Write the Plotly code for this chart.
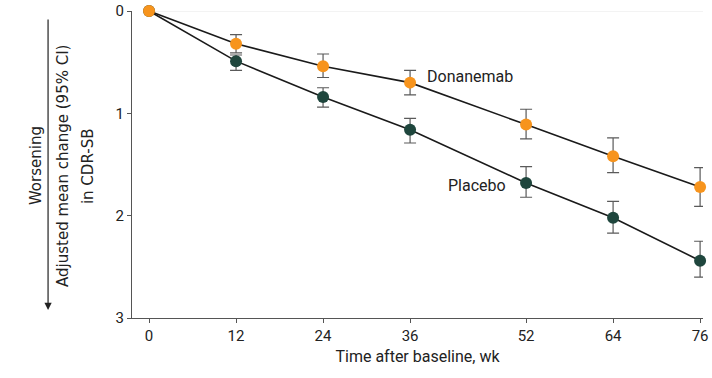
import plotly.graph_objects as go

weeks = [0, 12, 24, 36, 52, 64, 76]
dona_mean = [0.0, 0.32, 0.54, 0.70, 1.11, 1.42, 1.72]
dona_lo = [0.0, 0.23, 0.42, 0.58, 0.96, 1.24, 1.53]
dona_hi = [0.0, 0.41, 0.65, 0.82, 1.25, 1.58, 1.91]
plac_mean = [0.0, 0.49, 0.84, 1.16, 1.68, 2.02, 2.44]
plac_lo = [0.0, 0.43, 0.75, 1.05, 1.52, 1.86, 2.25]
plac_hi = [0.0, 0.58, 0.94, 1.29, 1.82, 2.17, 2.60]
xticks = [0, 12, 24, 36, 52, 64, 76]
yticks = [0, 1, 2, 3]

FONT = "Roboto, sans-serif"
TFONT = "DejaVu Sans, sans-serif"
ORANGE = "#F7941D"
DARK = "#1F463D"
EBAR = "#5a5a5a"
TXT = "#222"

def trace(mean, lo, hi, color):
    plus = [h - m for h, m in zip(hi, mean)]
    minus = [m - l for m, l in zip(mean, lo)]
    return go.Scatter(
        x=weeks, y=mean, mode="lines+markers",
        line=dict(color="#1a1a1a", width=1.6),
        marker=dict(color=color, size=12),
        error_y=dict(type="data", symmetric=False, array=plus, arrayminus=minus,
                     color=EBAR, thickness=1.2, width=6),
        cliponaxis=False, showlegend=False,
    )

fig = go.Figure()
fig.add_trace(trace(plac_mean, plac_lo, plac_hi, DARK))
fig.add_trace(trace(dona_mean, dona_lo, dona_hi, ORANGE))

fig.add_shape(type="line", xref="paper", yref="y", x0=0.02, x1=1, y0=0, y1=0,
              line=dict(color="#e8e8e8", width=1), layer="below")

fig.add_annotation(x=38.1, y=0.64, text="Donanemab", showarrow=False,
                   xanchor="left", yanchor="middle", font=dict(size=16, color=TXT, family=FONT))
fig.add_annotation(x=45.2, y=1.71, text="Placebo", showarrow=False,
                   xanchor="center", yanchor="middle", font=dict(size=16, color=TXT, family=FONT))

# y-axis title (two lines)
fig.add_annotation(xref="paper", yref="paper", x=-0.121, y=0.495,
                   text="Adjusted mean change (95% CI)", showarrow=False,
                   textangle=-90, font=dict(size=15, color=TXT, family=TFONT),
                   xanchor="center", yanchor="middle")
fig.add_annotation(xref="paper", yref="paper", x=-0.077, y=0.495,
                   text="in CDR-SB", showarrow=False,
                   textangle=-90, font=dict(size=15, color=TXT, family=TFONT),
                   xanchor="center", yanchor="middle")
# Worsening label with arrow
fig.add_annotation(xref="paper", yref="paper", x=-0.168, y=0.495,
                   text="Worsening", showarrow=False, textangle=-90,
                   font=dict(size=15, color=TXT, family=TFONT),
                   xanchor="center", yanchor="middle")
fig.add_annotation(xref="x domain", yref="y domain", x=-0.147, y=0.026,
                   ax=-0.147, ay=0.977, axref="x domain", ayref="y domain",
                   text="", showarrow=True, arrowhead=2, arrowsize=1.2,
                   arrowwidth=1.2, arrowcolor=TXT)

fig.update_xaxes(range=[-2.35, 76.4], tickvals=xticks, ticktext=[str(t) for t in xticks],
                 showline=True, linecolor="#555", linewidth=1, ticks="outside",
                 ticklen=4, tickcolor="#555", showgrid=False, zeroline=False,
                 title=dict(text="Time after baseline, wk", font=dict(size=16, color=TXT, family=FONT), standoff=6),
                 tickfont=dict(size=15, color=TXT, family=FONT), automargin=False)
fig.update_yaxes(range=[3, 0], tickvals=yticks, ticktext=[str(t) for t in yticks],
                 showline=True, linecolor="#555", linewidth=1, ticks="outside",
                 ticklen=4, tickcolor="#555", showgrid=False, zeroline=False,
                 tickfont=dict(size=15, color=TXT, family=FONT), automargin=False)

fig.update_layout(width=712, height=378,
                  margin=dict(l=132, r=9, t=11, b=60, autoexpand=False),
                  plot_bgcolor="white", paper_bgcolor="white",
                  font=dict(family=FONT))

fig.write_html("out.html")
